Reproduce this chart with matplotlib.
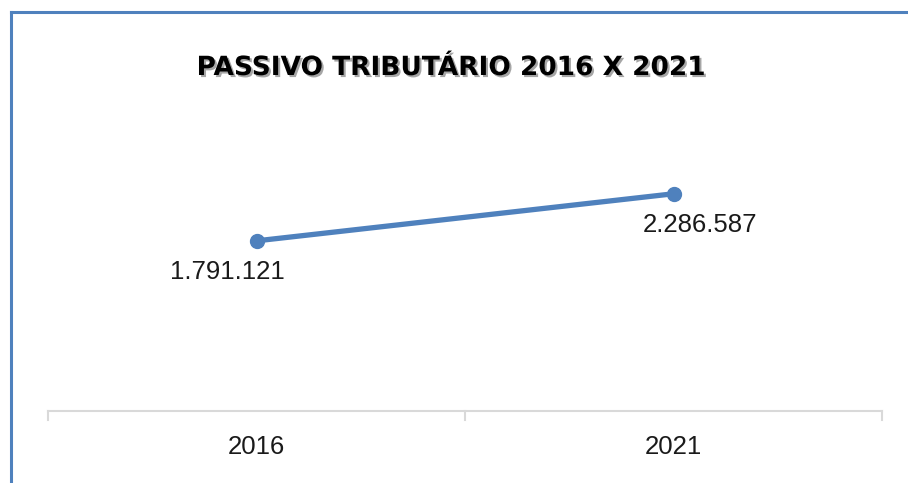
import matplotlib.pyplot as plt
import matplotlib.patheffects as pe
from matplotlib.lines import Line2D

# dados
anos = ['2016', '2021']
valores = [1791121, 2286587]
rotulos = ['1.791.121', '2.286.587']

azul = '#4F81BD'

fig = plt.figure(figsize=(9.08, 4.83), dpi=100)
ax = fig.add_axes([48 / 908, 72 / 483, 834 / 908, 285 / 483])

x = list(range(len(anos)))
ax.plot(x, valores, color=azul, lw=3.8, marker='o', markersize=10,
        solid_capstyle='round', zorder=3)

# rótulos de dados abaixo dos pontos (deslocados como no original)
desloc = [-29, 27]
for xi, v, r, d in zip(x, valores, rotulos, desloc):
    ax.annotate(r, (xi, v), xytext=(d, -19), textcoords='offset pixels',
                ha='center', va='top', fontsize=18.5, family='Liberation Sans',
                color='#1a1a1a')

ax.set_xlim(-0.5, len(anos) - 0.5)
ax.set_ylim(0, 3000000)
ax.set_yticks([])
ax.set_xticks(x)
ax.set_xticklabels(anos, fontsize=18.5, family='Liberation Sans', color='#1a1a1a')
ax.tick_params(axis='x', length=0, pad=17)
for lado in ['top', 'right', 'left']:
    ax.spines[lado].set_visible(False)
ax.spines['bottom'].set_color('#d9d9d9')
ax.spines['bottom'].set_linewidth(1.5)

# marcas entre categorias
for t in [-0.5, 0.5, 1.5]:
    ax.plot([t, t], [0, -95000], color='#d9d9d9', lw=1.5, clip_on=False)

fig.text(451 / 908, 1 - 68 / 483, 'PASSIVO TRIBUTÁRIO 2016 X 2021',
         ha='center', va='center', fontsize=19, fontweight='bold',
         family='DejaVu Sans',
         path_effects=[pe.SimplePatchShadow(offset=(1.5, -1.5), alpha=0.35),
                       pe.Normal()])

# borda azul (topo e esquerda)
fig.add_artist(Line2D([11 / 908, 1], [1 - 12 / 483, 1 - 12 / 483],
                      transform=fig.transFigure, color=azul, lw=2.2))
fig.add_artist(Line2D([11 / 908, 11 / 908], [0, 1 - 12 / 483],
                      transform=fig.transFigure, color=azul, lw=2.2))

fig.savefig('out.png', dpi=100)
